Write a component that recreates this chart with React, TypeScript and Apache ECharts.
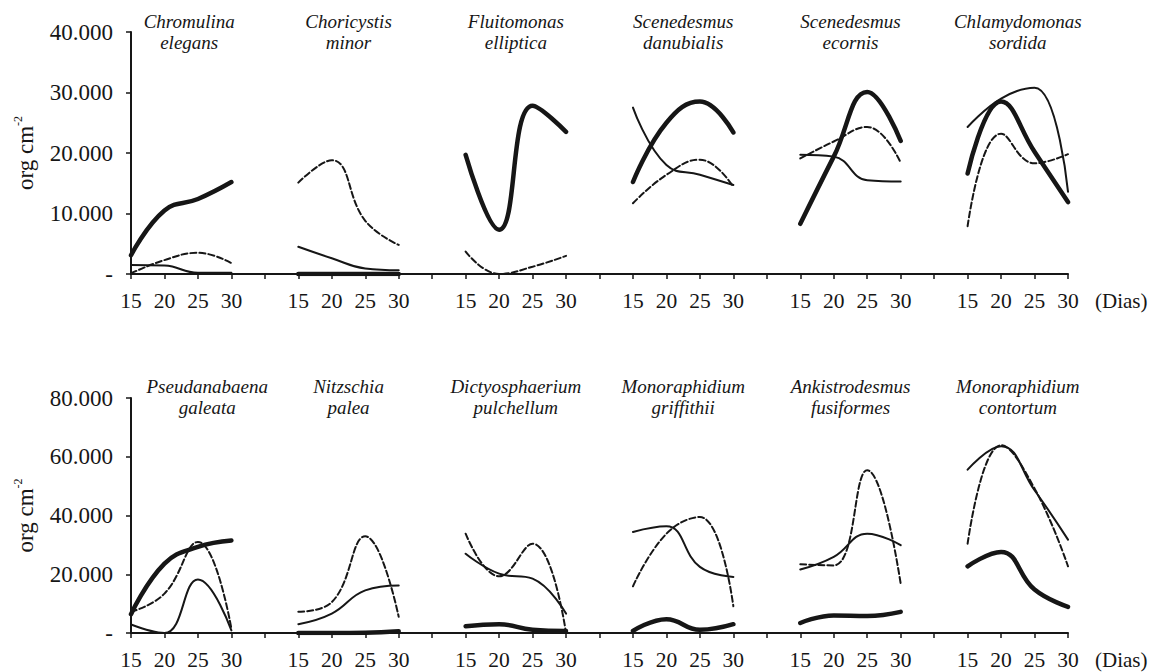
import React, { useEffect, useRef } from "react";
import * as echarts from "echarts";

// Sampling days shown under every species panel
const days = ["15", "20", "25", "30"];

const topTitles = [
  "Chromulina\nelegans",
  "Choricystis\nminor",
  "Fluitomonas\nelliptica",
  "Scenedesmus\ndanubialis",
  "Scenedesmus\necornis",
  "Chlamydomonas\nsordida",
];
const bottomTitles = [
  "Pseudanabaena\ngaleata",
  "Nitzschia\npalea",
  "Dictyosphaerium\npulchellum",
  "Monoraphidium\ngriffithii",
  "Ankistrodesmus\nfusiformes",
  "Monoraphidium\ncontortum",
];

// Densities (org cm-2), one row of four days per species
const topThick = [
  [3100, 10500, 12400, 15200],
  [0, 0, 0, 0],
  [19700, 7300, 27800, 23500],
  [15200, 25000, 28500, 23400],
  [8300, 19400, 30100, 22000],
  [16600, 28500, 20200, 11900],
];
const topThin = [
  [1500, 1400, 200, 200],
  [4500, 2600, 900, 600],
  [0, 0, 0, 0],
  [27500, 18000, 16400, 14700],
  [19700, 19400, 15500, 15300],
  [24300, 29000, 30800, 13600],
];
const topDashed = [
  [100, 2300, 3500, 1800],
  [15100, 18800, 8800, 4800],
  [3700, 0, 1200, 3000],
  [11700, 16400, 18900, 14400],
  [19100, 21900, 24300, 18400],
  [7900, 23200, 18300, 19800],
];
const bottomThick = [
  [6400, 23600, 29300, 31500],
  [0, 0, 100, 600],
  [2300, 3000, 1100, 700],
  [700, 4700, 1100, 3000],
  [3400, 6000, 5800, 7200],
  [22700, 27600, 14800, 8900],
];
const bottomThin = [
  [2900, 0, 18200, 900],
  [3000, 6600, 14500, 16200],
  [27000, 20200, 18500, 6600],
  [34400, 36300, 22500, 19100],
  [21600, 25900, 33800, 29900],
  [55600, 63600, 48600, 31800],
];
const bottomDashed = [
  [7200, 13400, 31000, 1500],
  [7200, 10500, 32900, 5500],
  [33800, 19300, 30400, 0],
  [15900, 33800, 39500, 9100],
  [23400, 23000, 55400, 16800],
  [30400, 63900, 49200, 22700],
];

const topMax = 40000;
const topStep = 10000;
const bottomMax = 80000;
const bottomStep = 20000;

const INK = "#161616";
const SERIF = "Liberation Serif";

// Panels share one category axis; an empty slot separates neighbouring species
const categories: string[] = [];
for (let p = 0; p < 6; p++) {
  if (p > 0) categories.push("");
  categories.push(...days);
}

function flatten(panels: number[][]): (number | null)[] {
  const out: (number | null)[] = [];
  panels.forEach((vals, p) => {
    if (p > 0) out.push(null);
    out.push(...vals);
  });
  return out;
}

const GRID_LEFT = 131;
const GRID_END = 1068;
const STEP = (GRID_END - GRID_LEFT) / (categories.length - 1);

const fmtThousands = (v: number) => (v === 0 ? "-" : `${v / 1000}.000`);

function lineSeries(data: (number | null)[], idx: number, kind: "thick" | "thin" | "dashed") {
  return {
    type: "line",
    xAxisIndex: idx,
    yAxisIndex: idx,
    data,
    smooth: 0.45,
    symbol: "none",
    connectNulls: false,
    lineStyle: {
      color: INK,
      width: kind === "thick" ? 4.5 : 2,
      type: kind === "dashed" ? [6, 3] : "solid",
      cap: "round",
    },
    z: kind === "thick" ? 3 : 2,
  };
}

export default function App() {
  const ref = useRef<HTMLDivElement>(null);

  useEffect(() => {
    if (!ref.current) return;
    const chart = echarts.init(ref.current, undefined, { renderer: "svg" });

    const grids = [
      { left: GRID_LEFT, top: 32, width: GRID_END - GRID_LEFT, height: 242 },
      { left: GRID_LEFT, top: 398, width: GRID_END - GRID_LEFT, height: 235 },
    ];

    const xAxis = grids.map((_, i) => ({
      type: "category",
      gridIndex: i,
      data: categories,
      boundaryGap: false,
      name: "(Dias)",
      nameLocation: "end",
      nameGap: 27,
      nameTextStyle: {
        color: INK,
        fontFamily: SERIF,
        fontSize: 21,
        verticalAlign: "top",
        padding: [16, 0, 0, 0],
      },
      axisLine: { lineStyle: { color: INK, width: 2 } },
      axisTick: { show: true, interval: 0, length: 5, lineStyle: { color: INK, width: 1.5 } },
      axisLabel: { interval: 0, color: INK, fontFamily: SERIF, fontSize: 21.5, margin: 16 },
      splitLine: { show: false },
    }));

    const yAxis = [
      { max: topMax, interval: topStep },
      { max: bottomMax, interval: bottomStep },
    ].map((ax, i) => ({
      type: "value",
      gridIndex: i,
      min: 0,
      max: ax.max,
      interval: ax.interval,
      name: "{a|org cm}{b|-2}",
      nameLocation: "middle",
      nameGap: 93,
      nameTextStyle: {
        rich: {
          a: { fontFamily: SERIF, fontSize: 23, color: INK, lineHeight: 26 },
          b: { fontFamily: SERIF, fontSize: 12, color: INK, verticalAlign: "top", lineHeight: 13 },
        },
      },
      axisLine: { show: true, lineStyle: { color: INK, width: 2 } },
      axisTick: { show: true, length: 5, lineStyle: { color: INK, width: 1.5 } },
      axisLabel: { color: INK, fontFamily: SERIF, fontSize: 23, margin: 18, formatter: fmtThousands },
      splitLine: { show: false },
    }));

    const series = [
      lineSeries(flatten(topThin), 0, "thin"),
      lineSeries(flatten(topDashed), 0, "dashed"),
      lineSeries(flatten(topThick), 0, "thick"),
      lineSeries(flatten(bottomThin), 1, "thin"),
      lineSeries(flatten(bottomDashed), 1, "dashed"),
      lineSeries(flatten(bottomThick), 1, "thick"),
    ];

    // Species names above each panel
    const titleShift = [8, 26];
    const graphic: any[] = [];
    [topTitles, bottomTitles].forEach((titles, row) => {
      titles.forEach((t, p) => {
        const cx = GRID_LEFT + (p * 5 + 1.5) * STEP + (p === 0 ? titleShift[row] : 0);
        graphic.push({
          type: "text",
          x: cx,
          y: row === 0 ? 11 : 376,
          style: {
            text: t,
            align: "center",
            verticalAlign: "top",
            fontFamily: SERIF,
            fontStyle: "italic",
            fontSize: 19,
            lineHeight: 21,
            fill: INK,
          },
        });
      });
    });

    chart.setOption({
      animation: false,
      backgroundColor: "#ffffff",
      grid: grids,
      xAxis,
      yAxis,
      series,
      graphic,
    });

    return () => chart.dispose();
  }, []);

  return (
    <div
      ref={ref}
      style={{ position: "fixed", left: 0, top: 0, width: 1160, height: 672, background: "#fff" }}
    />
  );
}
